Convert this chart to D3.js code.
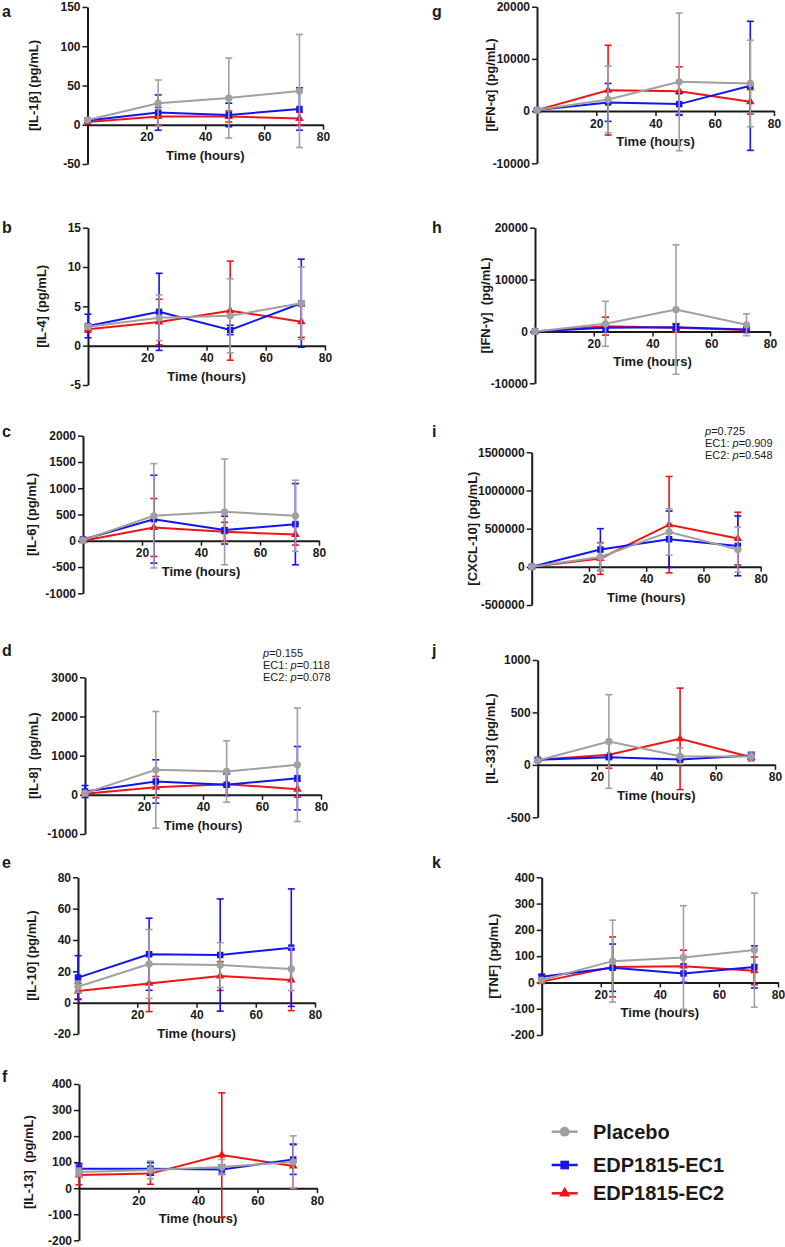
<!DOCTYPE html>
<html><head><meta charset="utf-8">
<script src="https://cdn.jsdelivr.net/npm/d3@7"></script>
<style>
body{margin:0;background:#fff}
svg{display:block}
text{font-family:"Liberation Sans",Arial,Helvetica,sans-serif}
</style>
</head><body>
<svg id="chart" width="785" height="1247"></svg>
<script>
// ---------- DATA ----------
const times = [0, 24, 48, 72];
const xTicks = [20, 40, 60, 80];
const seriesNames = ["Placebo", "EDP1815-EC1", "EDP1815-EC2"];
const seriesColors = ["#a0a0a0", "#1414f2", "#f21414"];
const seriesShapes = ["circle", "square", "triangle"];
const panelLetters = ["a","b","c","d","e","f","g","h","i","j","k"];
const yLabels = ["[IL-1β] (pg/mL)","[IL-4] (pg/mL)","[IL-6] (pg/mL)","[IL-8]  (pg/mL)","[IL-10] (pg/mL)","[IL-13]  (pg/mL)",
                 "[IFN-α] (pg/mL)","[IFN-γ]  (pg/mL)","[CXCL-10] (pg/mL)","[IL-33] (pg/mL)","[TNF] (pg/mL)"];

// rows: Placebo, EC1, EC2 ; mean and SD at 0/24/48/72 h
const IL1b_mean = [[6,27.5,34,43],[5.5,15.5,12.5,20],[3.5,10.5,10.5,8]];
const IL1b_sd   = [[2,29.5,51,72],[2,22.5,15,27],[1.5,11.5,7,8]];
const IL1b_ticks = [-50,0,50,100,150];

const IL4_mean = [[2.4,3.56,3.8,5.4],[2.5,4.3,2.0,5.4],[2.1,3.0,4.45,3.05]];
const IL4_sd   = [[0.3,2.9,4.7,4.6],[1.5,4.9,0.6,5.6],[0.4,2.9,6.3,2.0]];
const IL4_ticks = [-5,0,5,10,15];

const IL6_mean = [[13,475,550,475],[25,411,203,316],[0,253,171,120]];
const IL6_sd   = [[10,993,1007,677],[15,836,265,773],[10,551,180,202]];
const IL6_ticks = [-1000,-500,0,500,1000,1500,2000];

const IL8_mean = [[43,638,596,766],[85,340,255,425],[25,196,272,145]];
const IL8_sd   = [[30,1490,783,1447],[153,554,273,809],[20,272,280,205]];
const IL8_ticks = [-1000,0,1000,2000,3000];

const IL10_mean = [[10.2,24.7,24,21.5],[16,30.9,30.4,35.1],[7.4,12.3,17,14.5]];
const IL10_sd   = [[3.5,22,14.3,13.8],[14,23,35.8,37.5],[5,18,9.2,19.6]];
const IL10_ticks = [-20,0,20,40,60,80];

const IL13_mean = [[62,70,81,101],[75,75,72,110],[51,56,127,85]];
const IL13_sd   = [[15,34,29,100],[20,25,18,57],[38,41,239,85]];
const IL13_ticks = [-200,-100,0,100,200,300,400];

const IFNa_mean = [[190,2230,5600,5290],[190,1660,1340,4840],[190,4010,3820,1780]];
const IFNa_sd   = [[150,6370,13190,8280],[150,3630,2000,12360],[150,8600,4650,2350]];
const IFNa_ticks = [-10000,0,10000,20000];

const IFNg_mean = [[0,1470,4220,1280],[0,700,830,380],[0,1020,700,260]];
const IFNg_sd   = [[100,4340,12460,2110],[100,800,600,400],[100,1730,800,500]];
const IFNg_ticks = [-10000,0,10000,20000];

const CXCL10_mean = [[0,130000,457000,226000],[0,226000,361000,274000],[0,109000,552000,370000]];
const CXCL10_sd   = [[5000,180000,304000,296000],[5000,274000,369000,391000],[5000,208000,631000,345000]];
const CXCL10_ticks = [-500000,0,500000,1000000,1500000];

const IL33_mean = [[41,223,83,80],[48,73,51,89],[48,96,248,73]];
const IL33_sd   = [[10,446,76,45],[10,15,15,30],[10,128,484,30]];
const IL33_ticks = [-500,0,500,1000];

const TNF_mean = [[9,81,95,123],[22,56,34,59],[3,59,62,44]];
const TNF_sd   = [[5,156,197,217],[8,90,36,80],[5,114,61,53]];
const TNF_ticks = [-200,-100,0,100,200,300,400];

const pText_d = ["p=0.155","EC1: p=0.118","EC2: p=0.078"];
const pText_i = ["p=0.725","EC1: p=0.909","EC2: p=0.548"];

const panelMeans = [IL1b_mean,IL4_mean,IL6_mean,IL8_mean,IL10_mean,IL13_mean,IFNa_mean,IFNg_mean,CXCL10_mean,IL33_mean,TNF_mean];
const panelSDs   = [IL1b_sd,IL4_sd,IL6_sd,IL8_sd,IL10_sd,IL13_sd,IFNa_sd,IFNg_sd,CXCL10_sd,IL33_sd,TNF_sd];
const panelTicks = [IL1b_ticks,IL4_ticks,IL6_ticks,IL8_ticks,IL10_ticks,IL13_ticks,IFNa_ticks,IFNg_ticks,CXCL10_ticks,IL33_ticks,TNF_ticks];
const panelP = [null,null,null,pText_d,null,null,null,null,pText_i,null,null];

// ---------- LAYOUT (pixel positions) ----------
const layout = [
  {x0:87.5,x1:323,yt:7,yb:164,lx:33,  lt:[2,16.5]},
  {x0:88,x1:325,yt:227.7,yb:385,lx:41.7, lt:[2,232.7]},
  {x0:83,x1:319,yt:435.7,yb:593.3,lx:31.7, lt:[2,437.3]},
  {x0:85,x1:321,yt:677.3,yb:834,lx:33.3, lt:[2,655.7], pp:[263,657.3]},
  {x0:78,x1:315,yt:877.3,yb:1034,lx:31.7, lt:[2,867.7]},
  {x0:79,x1:317,yt:1084,yb:1240.3,lx:28.3, lt:[2,1081.7]},
  {x0:537,x1:774,yt:6.7,yb:163.3,lx:490, lt:[432,16.5]},
  {x0:535,x1:770,yt:227.7,yb:383.3,lx:485, lt:[432,232.7]},
  {x0:531.7,x1:760.7,yt:452.3,yb:605,lx:472, lt:[432,437.3], pp:[705,435]},
  {x0:537.7,x1:775,yt:660,yb:817.3,lx:490, lt:[432,656]},
  {x0:541.7,x1:778,yt:877.3,yb:1035,lx:493.3, lt:[432,868.3]}
];

const svg = d3.select("#chart");
const ink = "#1a1a1a";

function symbolFor(shape, size){
  const t = shape === "circle" ? d3.symbolCircle : shape === "square" ? d3.symbolSquare : d3.symbolTriangle;
  return d3.symbol().type(t).size(size)();
}

panelLetters.forEach((letter, i) => {
  const L = layout[i];
  const ticks = panelTicks[i];
  const x = d3.scaleLinear().domain([0, 80]).range([L.x0, L.x1]);
  const y = d3.scaleLinear().domain([ticks[0], ticks[ticks.length-1]]).range([L.yb, L.yt]);
  const g = svg.append("g");

  // panel letter
  g.append("text").attr("x", L.lt[0]).attr("y", L.lt[1])
    .attr("font-size", 16).attr("font-weight", "bold").attr("fill", ink).text(letter);

  // y axis
  const ya = g.append("g").attr("transform", `translate(${L.x0},0)`)
    .call(d3.axisLeft(y).tickValues(ticks).tickSize(5).tickSizeOuter(0).tickPadding(2).tickFormat(d => String(d)));
  // x axis at zero
  const xa = g.append("g").attr("transform", `translate(0,${y(0)})`)
    .call(d3.axisBottom(x).tickValues(xTicks).tickSize(5).tickSizeOuter(0).tickPadding(3).tickFormat(d => String(d)));
  [ya, xa].forEach(a => {
    a.select(".domain").attr("stroke", ink).attr("stroke-width", 2);
    a.selectAll(".tick line").attr("stroke", ink).attr("stroke-width", 1.5);
    a.selectAll(".tick text").attr("font-size", 12).attr("font-weight", "bold").attr("fill", ink)
      .attr("font-family", '"Liberation Sans",Arial,sans-serif');
  });

  // axis titles
  g.append("text").attr("x", (L.x0 + L.x1) / 2).attr("y", y(0) + 30.5)
    .attr("text-anchor", "middle").attr("dominant-baseline", "central")
    .attr("font-size", 13).attr("font-weight", "bold").attr("fill", ink).text("Time (hours)");
  g.append("text")
    .attr("transform", `translate(${L.lx},${(L.yt + L.yb) / 2}) rotate(-90)`)
    .attr("text-anchor", "middle").attr("dominant-baseline", "central")
    .style("white-space", "pre")
    .attr("font-size", 13).attr("font-weight", "bold").attr("fill", ink).text(yLabels[i]);

  // series: draw EC2, EC1, then Placebo on top
  [2, 1, 0].forEach(s => {
    const means = panelMeans[i][s], sds = panelSDs[i][s], col = seriesColors[s];
    const pts = times.map((t, k) => ({t, m: means[k], sd: sds[k]}));
    const sg = g.append("g");
    // error bars
    pts.forEach(p => {
      const hi = y(p.m + p.sd), lo = y(p.m - p.sd), cx = x(p.t);
      sg.append("line").attr("x1", cx).attr("x2", cx).attr("y1", hi).attr("y2", lo)
        .attr("stroke", col).attr("stroke-width", 1.6);
      [hi, lo].forEach(yy => sg.append("line").attr("x1", cx - 3.5).attr("x2", cx + 3.5)
        .attr("y1", yy).attr("y2", yy).attr("stroke", col).attr("stroke-width", 1.6));
    });
    // line
    sg.append("path").datum(pts)
      .attr("d", d3.line().x(p => x(p.t)).y(p => y(p.m)))
      .attr("fill", "none").attr("stroke", col).attr("stroke-width", 2);
    // markers
    sg.selectAll("path.mk").data(pts).enter().append("path").attr("class", "mk")
      .attr("d", symbolFor(seriesShapes[s], seriesShapes[s] === "triangle" ? 32 : 42))
      .attr("transform", p => `translate(${x(p.t)},${y(p.m)})`)
      .attr("fill", col);
  });

  // p-values
  if (panelP[i]) {
    panelP[i].forEach((str, r) => {
      const t = g.append("text").attr("x", L.pp[0]).attr("y", L.pp[1] + r * 12)
        .attr("font-size", 11).attr("fill", ink);
      const parts = str.split("p=");
      t.append("tspan").text(parts[0]);
      t.append("tspan").attr("font-style", "italic").text("p");
      t.append("tspan").text("=" + parts[1]);
    });
  }
});

// ---------- LEGEND ----------
const legendRows = [1131.7, 1165, 1193.3];
const lg = svg.append("g");
seriesNames.forEach((name, s) => {
  const yy = legendRows[s];
  lg.append("line").attr("x1", 551.7).attr("x2", 577.7).attr("y1", yy).attr("y2", yy)
    .attr("stroke", seriesColors[s]).attr("stroke-width", 2.5);
  lg.append("path").attr("d", symbolFor(seriesShapes[s], seriesShapes[s] === "triangle" ? 55 : 75))
    .attr("transform", `translate(564.7,${yy})`).attr("fill", seriesColors[s]);
  lg.append("text").attr("x", 593).attr("y", yy).attr("dominant-baseline", "central")
    .attr("font-size", 20).attr("font-weight", "bold").attr("fill", ink).text(name);
});
</script>
</body></html>
